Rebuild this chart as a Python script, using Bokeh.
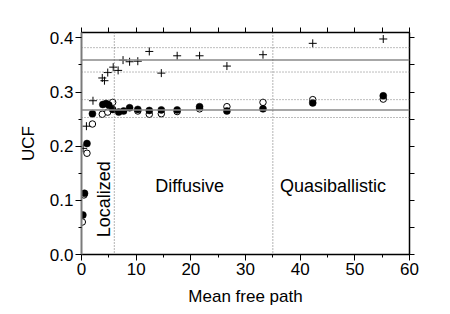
import math
from bokeh.plotting import figure
from bokeh.models import (LinearAxis, FixedTicker, Span, Label, Range1d,
                          CustomJSTickFormatter, NumeralTickFormatter)
from bokeh.embed import file_html
from bokeh.resources import INLINE

# ---- data ----
filled_x = [0.25, 0.55, 1.0, 2.0, 3.9, 4.5, 5.0, 5.7, 6.8, 7.7, 8.8, 10.3,
            12.4, 14.6, 17.5, 21.6, 26.6, 33.2, 42.3, 55.2]
filled_y = [0.073, 0.113, 0.205, 0.260, 0.277, 0.279, 0.276, 0.268, 0.263, 0.265,
            0.271, 0.268, 0.266, 0.267, 0.267, 0.273, 0.265, 0.269, 0.280, 0.293]

open_x = [0.15, 0.45, 1.0, 2.0, 3.8, 4.8, 5.7, 10.3, 12.4, 14.6, 17.5, 21.6,
          26.6, 33.2, 42.3, 55.2]
open_y = [0.060, 0.110, 0.187, 0.241, 0.259, 0.263, 0.281, 0.265, 0.259, 0.260,
          0.264, 0.269, 0.273, 0.281, 0.286, 0.287]

plus_x = [0.3, 0.9, 2.1, 3.8, 4.2, 4.8, 5.8, 6.7, 7.6, 8.8, 10.3, 12.4, 14.6,
          17.5, 21.6, 26.6, 33.2, 42.3, 55.2]
plus_y = [0.196, 0.237, 0.284, 0.326, 0.321, 0.336, 0.346, 0.340, 0.359, 0.356,
          0.357, 0.375, 0.335, 0.367, 0.367, 0.348, 0.369, 0.390, 0.398]

hline_solid = [0.359, 0.267]
hline_dotted = [0.382, 0.337, 0.286, 0.253]
vline_dotted = [6, 35]

x_ticks = [0, 10, 20, 30, 40, 50, 60]
x_minor = [5, 15, 25, 35, 45, 55]
y_ticks = [0.0, 0.1, 0.2, 0.3, 0.4]
y_minor = [0.05, 0.15, 0.25, 0.35]

region_labels = ["Localized", "Diffusive", "Quasiballistic"]

FONT = "Liberation Sans"

p = figure(width=450, height=314, output_backend="svg", toolbar_location=None,
           x_range=Range1d(0, 60), y_range=Range1d(0, 0.41),
           min_border_left=81, min_border_right=41, min_border_top=32,
           min_border_bottom=60, x_axis_label="Mean free path", y_axis_label="UCF")
p.grid.visible = False
p.outline_line_color = "black"
p.background_fill_color = "white"
p.border_fill_color = "white"

# reference lines
for v in hline_solid:
    p.add_layout(Span(location=v, dimension="width", line_color="#8a8a8a", line_width=1.5))
for v in hline_dotted:
    p.add_layout(Span(location=v, dimension="width", line_color="#7a7a7a",
                      line_width=1, line_dash="1 2"))
for v in vline_dotted:
    p.add_layout(Span(location=v, dimension="height", line_color="#6a6a6a",
                      line_width=1, line_dash="1 2"))

# markers
p.scatter(open_x, open_y, marker="circle", size=6.5, fill_color="white",
          line_color="black", line_width=1)
p.scatter(filled_x, filled_y, marker="circle", size=7, fill_color="black",
          line_color="black", line_width=0.5)
p.scatter(plus_x, plus_y, marker="cross", size=8, line_color="black", line_width=1)

# axes styling
def style(ax):
    ax.axis_line_color = "black"
    ax.axis_line_width = 1.5
    ax.major_tick_line_color = "black"
    ax.minor_tick_line_color = "black"
    ax.major_tick_in = 0
    ax.minor_tick_in = 0
    ax.major_label_text_font = FONT
    ax.major_label_text_font_size = "17px"
    ax.major_label_text_color = "black"
    ax.axis_label_text_font = FONT
    ax.axis_label_text_font_size = "17px"
    ax.axis_label_text_font_style = "normal"
    ax.axis_label_text_color = "black"

xa = p.xaxis[0]
style(xa)
xa.ticker = FixedTicker(ticks=x_ticks, minor_ticks=x_minor)
xa.major_tick_out = 6
xa.minor_tick_out = 3
xa.major_label_standoff = 2
xa.axis_label_standoff = 9

ya = p.yaxis[0]
style(ya)
ya.ticker = FixedTicker(ticks=y_ticks, minor_ticks=y_minor)
ya.formatter = NumeralTickFormatter(format="0.0")
ya.axis_line_color = "#7a7a7a"
ya.axis_line_width = 2
ya.major_tick_out = 6
ya.minor_tick_out = 3
ya.major_label_standoff = 2
ya.axis_label_standoff = 9

blank = CustomJSTickFormatter(code="return ''")
top = LinearAxis(ticker=FixedTicker(ticks=x_ticks, minor_ticks=x_minor), formatter=blank)
style(top)
top.major_tick_out = 5
top.minor_tick_out = 5
top.major_label_text_font_size = "1px"
p.add_layout(top, "above")

right = LinearAxis(ticker=FixedTicker(ticks=y_ticks, minor_ticks=y_minor), formatter=blank)
style(right)
right.major_tick_out = 5
right.minor_tick_out = 5
right.major_label_text_font_size = "1px"
p.add_layout(right, "right")

# region labels
p.add_layout(Label(x=4.2, y=0.102, text=region_labels[0], angle=math.pi / 2,
                   text_align="center", text_baseline="middle",
                   text_font=FONT, text_font_size="18px", text_color="black"))
p.add_layout(Label(x=13.5, y=0.127, text=region_labels[1],
                   text_align="left", text_baseline="middle",
                   text_font=FONT, text_font_size="18px", text_color="black"))
p.add_layout(Label(x=36.3, y=0.127, text=region_labels[2],
                   text_align="left", text_baseline="middle",
                   text_font=FONT, text_font_size="18px", text_color="black"))

open("out.html", "w").write(file_html(p, INLINE))
